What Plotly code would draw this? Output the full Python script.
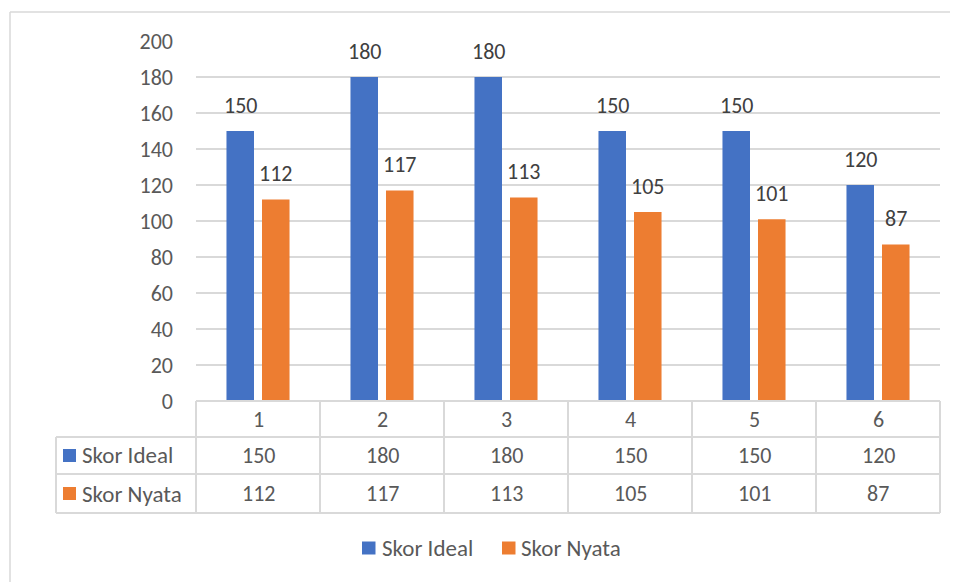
import plotly.graph_objects as go

categories = [1, 2, 3, 4, 5, 6]
series_names = ["Skor Ideal", "Skor Nyata"]
skor_ideal = [150, 180, 180, 150, 150, 120]
skor_nyata = [112, 117, 113, 105, 101, 87]
y_ticks = [0, 20, 40, 60, 80, 100, 120, 140, 160, 180, 200]

colors = ["#4472C4", "#ED7D31"]
series_values = [skor_ideal, skor_nyata]
FONT = "Carlito, Lato, sans-serif"
TXT = "#595959"
LBL = "#404040"
GRID = "#D9D9D9"
NUM = 22   # digit font size
NAME = 23  # series name font size

OFF = 8  # browser body margin
W, H = 958 - OFF, 582 - OFF
L, R, T, B = 196 - OFF, 940 - OFF, 41 - OFF, 401 - OFF  # plot area pixel box (figure coords)
PW, PH = R - L, B - T


def px(x):
    # x given in screenshot pixels
    return (x - OFF - L) / PW


def py(y):
    return (B - (y - OFF)) / PH


fig = go.Figure()
for name, vals, col in zip(series_names, series_values, colors):
    fig.add_trace(go.Bar(x=categories, y=vals, name=name, marker_color=col,
                         marker_line_width=0, showlegend=False))

ann = []
shapes = []
# data labels above bars
offs = [-17.75, 17.75]
for vals, off in zip(series_values, offs):
    for c, v in zip(categories, vals):
        ann.append(dict(x=c, y=v, xref="x", yref="y", text=str(v), showarrow=False,
                        xshift=off, yshift=26, yanchor="middle",
                        font=dict(family=FONT, size=NUM, color=LBL)))

# data table
row_y = [419, 455.5, 493.5]
for c in categories:
    ann.append(dict(x=c, y=py(row_y[0]), xref="x", yref="paper", text=str(c),
                    showarrow=False, yanchor="middle",
                    font=dict(family=FONT, size=NUM, color=TXT)))
for i, (name, vals, col) in enumerate(zip(series_names, series_values, colors)):
    yy = row_y[i + 1]
    for c, v in zip(categories, vals):
        ann.append(dict(x=c, y=py(yy), xref="x", yref="paper", text=str(v),
                        showarrow=False, yanchor="middle",
                        font=dict(family=FONT, size=NUM, color=TXT)))
    shapes.append(dict(type="rect", xref="paper", yref="paper",
                       x0=px(63), x1=px(76), y0=py(yy - 6.5), y1=py(yy + 6.5),
                       fillcolor=col, line=dict(width=0)))
    ann.append(dict(x=px(80), y=py(yy), xref="paper", yref="paper", text=name,
                    showarrow=False, xanchor="left", yanchor="middle",
                    font=dict(family=FONT, size=NAME, color=TXT)))

# table grid lines
hl = [(196, 401), (56, 437), (56, 474), (56, 513)]
for x0, y in hl:
    shapes.append(dict(type="line", xref="paper", yref="paper", x0=px(x0), x1=px(940),
                       y0=py(y), y1=py(y), line=dict(color=GRID, width=2)))
ncat = len(categories)
for k in range(ncat + 1):
    xx = k / ncat
    shapes.append(dict(type="line", xref="paper", yref="paper", x0=xx, x1=xx,
                       y0=py(401), y1=py(513), line=dict(color=GRID, width=2)))
shapes.append(dict(type="line", xref="paper", yref="paper", x0=px(56), x1=px(56),
                   y0=py(437), y1=py(513), line=dict(color=GRID, width=2)))

# legend (manual)
leg_items = [(362, 380), (502, 519)]
for (sx, tx), name, col in zip(leg_items, series_names, colors):
    shapes.append(dict(type="rect", xref="paper", yref="paper",
                       x0=px(sx), x1=px(sx + 13.5), y0=py(548 - 6.5), y1=py(548 + 6.5),
                       fillcolor=col, line=dict(width=0)))
    ann.append(dict(x=px(tx), y=py(548), xref="paper", yref="paper", text=name,
                    showarrow=False, xanchor="left", yanchor="middle",
                    font=dict(family=FONT, size=NAME, color=TXT)))

# outer chart border (only top and left edges are inside the picture)
shapes.append(dict(type="line", xref="paper", yref="paper",
                   x0=px(10), x1=px(970), y0=py(12), y1=py(12),
                   line=dict(color=GRID, width=1.5)))
shapes.append(dict(type="line", xref="paper", yref="paper",
                   x0=px(10), x1=px(10), y0=py(12), y1=py(600),
                   line=dict(color=GRID, width=1.5)))

fig.update_layout(
    width=W, height=H,
    margin=dict(l=L, r=W - R, t=T, b=H - B),
    paper_bgcolor="white", plot_bgcolor="white",
    barmode="group", bargap=0.427, bargroupgap=0.225,
    annotations=ann, shapes=shapes,
    font=dict(family=FONT, size=NUM, color=TXT),
)
fig.update_xaxes(range=[0.5, 6.5], showticklabels=False, showgrid=False,
                 zeroline=False, showline=False, fixedrange=True)
fig.update_yaxes(range=[0, 200], tickvals=y_ticks, showgrid=True, gridcolor=GRID,
                 gridwidth=2, zeroline=False, showline=False, ticks="",
                 ticklabelstandoff=22, tickfont=dict(family=FONT, size=NUM, color=TXT))

fig.write_html("out.html")
